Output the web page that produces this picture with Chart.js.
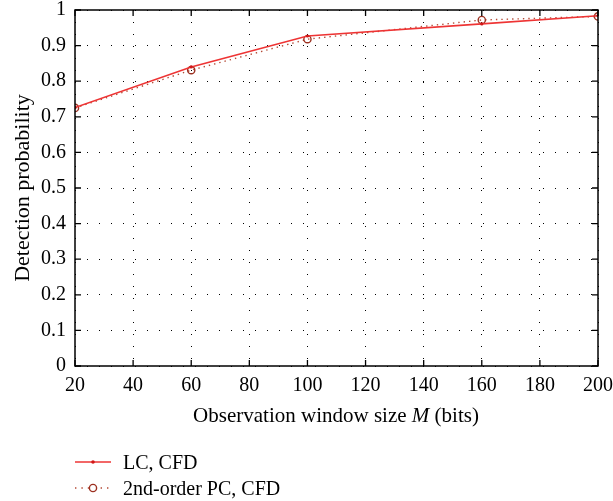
<!DOCTYPE html>
<html>
<head>
<meta charset="utf-8">
<script src="https://cdn.jsdelivr.net/npm/chart.js@4/dist/chart.umd.min.js"></script>
<style>
  html, body { margin:0; padding:0; background:#fff; }
  #wrap { position:relative; width:613px; height:501px; }
  #c { position:absolute; left:0; top:0; }
  .txt { position:absolute; font-family:"Liberation Serif","DejaVu Serif",serif; color:#000; white-space:nowrap; }
  #xtitle { left:336px; top:415px; transform:translate(-50%,-50%); font-size:21px; }
  .leg { position:absolute; left:74px; height:24px; display:flex; align-items:center; font-size:20px; }
  .leg svg { margin-right:11px; }
</style>
</head>
<body>
<div id="wrap">
  <canvas id="c" width="613" height="501"></canvas>
  <div id="xtitle" class="txt">Observation window size <i>M</i> (bits)</div>
  <div class="leg txt" style="top:450px;">
    <svg width="38" height="10"><line x1="1" y1="5" x2="37" y2="5" stroke="#ee3434" stroke-width="1.6"/><circle cx="19" cy="5" r="1.8" fill="#d01818"/></svg>
    <span>LC, CFD</span>
  </div>
  <div class="leg txt" style="top:476px;">
    <svg width="38" height="10"><line x1="1" y1="5" x2="37" y2="5" stroke="#b44a36" stroke-width="1.4" stroke-dasharray="1.4,5"/><circle cx="19" cy="5" r="3.6" fill="#fff" stroke="#9c3020" stroke-width="1.4"/></svg>
    <span>2nd-order PC, CFD</span>
  </div>
</div>
<script>
const windowSizes = [20, 60, 100, 160, 200];
const lcCfd = [0.726, 0.840, 0.927, 0.961, 0.984];
const pcCfd = [0.725, 0.831, 0.918, 0.972, 0.982];
const xTicks = [20, 40, 60, 80, 100, 120, 140, 160, 180, 200];
const yTicks = [0, 0.1, 0.2, 0.3, 0.4, 0.5, 0.6, 0.7, 0.8, 0.9, 1];
const yTitle = "Detection probability";

const serif = '"Liberation Serif","DejaVu Serif",serif';

const framePlugin = {
  id: 'frame',
  afterDatasetsDraw(chart) {
    const {ctx, chartArea:a, scales} = chart;
    ctx.save();
    ctx.strokeStyle = '#000';
    ctx.lineWidth = 1.5;
    ctx.strokeRect(a.left, a.top, a.right - a.left, a.bottom - a.top);
    ctx.lineWidth = 1.3;
    ctx.beginPath();
    const L = 6;
    xTicks.forEach(v => {
      const x = scales.x.getPixelForValue(v);
      ctx.moveTo(x, a.bottom); ctx.lineTo(x, a.bottom - L);
      ctx.moveTo(x, a.top); ctx.lineTo(x, a.top + L);
    });
    yTicks.forEach(v => {
      const y = scales.y.getPixelForValue(v);
      ctx.moveTo(a.left, y); ctx.lineTo(a.left + L, y);
      ctx.moveTo(a.right, y); ctx.lineTo(a.right - L, y);
    });
    ctx.stroke();
    ctx.restore();
  }
};

new Chart(document.getElementById('c'), {
  type: 'line',
  data: {
    datasets: [
      {
        label: 'LC, CFD',
        data: windowSizes.map((x, i) => ({x, y: lcCfd[i]})),
        borderColor: '#ee3434',
        borderWidth: 1.6,
        pointRadius: 1.6,
        pointBackgroundColor: '#d01818',
        pointBorderWidth: 0,
        tension: 0,
        order: 1
      },
      {
        label: '2nd-order PC, CFD',
        data: windowSizes.map((x, i) => ({x, y: pcCfd[i]})),
        borderColor: '#b44a36',
        borderWidth: 1.4,
        borderDash: [1.4, 4],
        pointRadius: 3.6,
        pointBackgroundColor: 'rgba(255,255,255,0)',
        pointBorderColor: '#9c3020',
        pointBorderWidth: 1.4,
        tension: 0,
        order: 2
      }
    ]
  },
  options: {
    responsive: false,
    animation: false,
    events: [],
    layout: { padding: { top: 10, right: 15, left: 0, bottom: 95 } },
    plugins: { legend: { display: false }, tooltip: { enabled: false } },
    scales: {
      x: {
        type: 'linear', min: 20, max: 200,
        afterBuildTicks(s) { s.ticks = xTicks.map(v => ({value: v})); },
        afterFit(s) { s.height = 40; s.paddingLeft = 0; s.paddingRight = 0; },
        grid: { color: '#000', lineWidth: 1, drawTicks: false },
        border: { display: false, dash: [1, 11] },
        ticks: { font: { family: serif, size: 20 }, color: '#000', padding: 8, maxRotation: 0 }
      },
      y: {
        min: 0, max: 1,
        afterBuildTicks(s) { s.ticks = yTicks.map(v => ({value: v})); },
        afterFit(s) { s.width = 75; s.paddingTop = 0; s.paddingBottom = 0; },
        grid: { color: '#000', lineWidth: 1, drawTicks: false },
        border: { display: false, dash: [1, 11] },
        ticks: { font: { family: serif, size: 20 }, color: '#000', padding: 9,
                 callback: v => String(Math.round(v * 10) / 10) },
        title: { display: true, text: yTitle, font: { family: serif, size: 22 }, color: '#000', padding: { top: 10, bottom: 0 } }
      }
    }
  },
  plugins: [framePlugin]
});
</script>
</body>
</html>
